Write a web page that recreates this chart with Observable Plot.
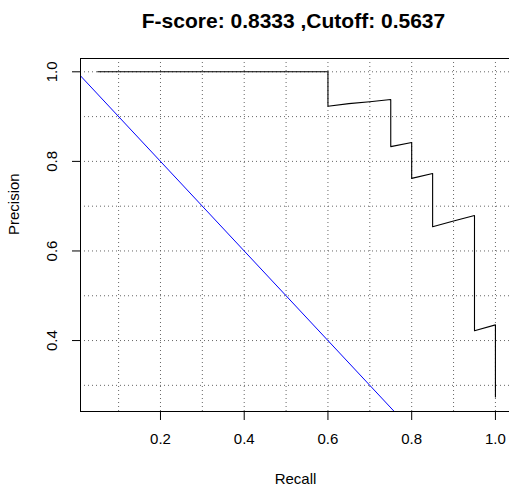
<!DOCTYPE html>
<html>
<head>
<meta charset="utf-8">
<script src="https://cdn.jsdelivr.net/npm/d3@7"></script>
<script src="https://cdn.jsdelivr.net/npm/@observablehq/plot@0.6"></script>
<style>
  html, body { margin: 0; padding: 0; background: #fff; overflow: hidden; }
  #chart { width: 509px; height: 486px; overflow: hidden; }
  #chart svg { display: block; max-width: none !important; }
</style>
</head>
<body>
<div id="chart"></div>
<script>
// Precision-recall curve (black)
const recall    = [0.05, 0.6, 0.6,   0.65,  0.7,   0.75,  0.75,  0.8,   0.8,   0.85,  0.85,  0.9,   0.95,  0.95,  1.0,   1.0];
const precision = [1.0,  1.0, 0.923, 0.929, 0.933, 0.938, 0.833, 0.842, 0.762, 0.773, 0.654, 0.667, 0.679, 0.422, 0.435, 0.274];
// Reference diagonal (blue)
const diagRecall = [0, 1];
const diagPrecision = [1, 0];
// Ticks and grid
const xTicks = [0.2, 0.4, 0.6, 0.8, 1.0];
const yTicks = [0.4, 0.6, 0.8, 1.0];
const xGrid = [0.1, 0.2, 0.3, 0.4, 0.5, 0.6, 0.7, 0.8, 0.9, 1.0];
const yGrid = [0.3, 0.4, 0.5, 0.6, 0.7, 0.8, 0.9, 1.0];
const title = "F-score: 0.8333 ,Cutoff: 0.5637";
const xLabel = "Recall";
const yLabel = "Precision";

const curve = recall.map((r, i) => ({recall: r, precision: precision[i]}));
const diag = diagRecall.map((r, i) => ({recall: r, precision: diagPrecision[i]}));
const fmt = d => d.toFixed(1);
const font = "'Liberation Sans', Arial, sans-serif";

const chart = Plot.plot({
  width: 512,
  height: 486,
  marginLeft: 80,
  marginRight: 2,
  marginTop: 58,
  marginBottom: 75,
  style: {fontFamily: font, fontSize: "15px", color: "#000", background: "#fff", maxWidth: "none"},
  x: {domain: [0.009, 1.036]},
  y: {domain: [0.2416, 1.0297]},
  marks: [
    Plot.gridX(xGrid, {stroke: "#666", strokeOpacity: 1, strokeDasharray: "1,3"}),
    Plot.gridY(yGrid, {stroke: "#666", strokeOpacity: 1, strokeDasharray: "1,3"}),
    Plot.line(diag, {x: "recall", y: "precision", stroke: "blue", strokeWidth: 1, clip: true}),
    Plot.line(curve, {x: "recall", y: "precision", stroke: "#000", strokeWidth: 1.1}),
    Plot.frame({stroke: "#000", strokeWidth: 1}),
    Plot.axisX({ticks: xTicks, tickSize: 9, tickPadding: 13, tickFormat: fmt, label: null, fontSize: 15}),
    Plot.axisY({ticks: yTicks, tickSize: 8, tickFormat: () => "", label: null}),
    Plot.text(yTicks, {y: d => d, text: fmt, frameAnchor: "left", dx: -28, rotate: -90, textAnchor: "middle", lineAnchor: "middle", fontSize: 15}),
    Plot.text([title], {text: d => d, frameAnchor: "top", dy: -31, dx: -2, lineAnchor: "bottom", fontWeight: "bold", fontSize: 21}),
    Plot.text([xLabel], {text: d => d, frameAnchor: "bottom", dy: 72, lineAnchor: "bottom", fontSize: 15}),
    Plot.text([yLabel], {text: d => d, frameAnchor: "left", dx: -66, rotate: -90, lineAnchor: "middle", fontSize: 15})
  ]
});
document.getElementById("chart").appendChild(chart);
</script>
</body>
</html>
